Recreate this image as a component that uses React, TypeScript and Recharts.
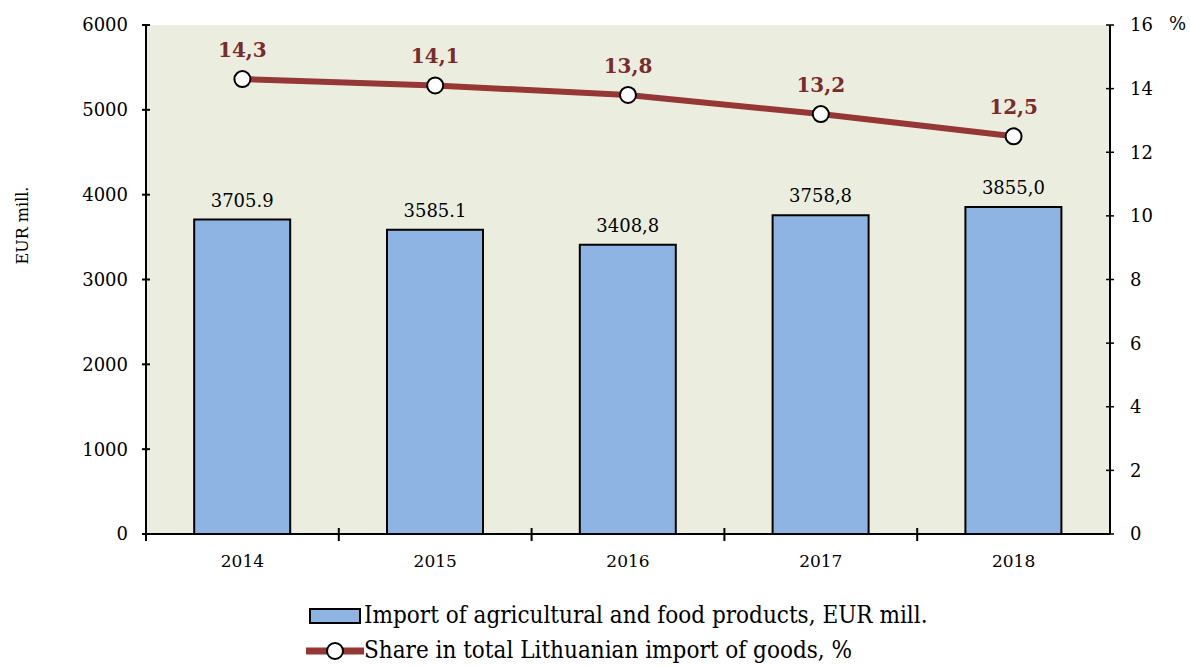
import React from "react";
import {
  Bar,
  CartesianGrid,
  ComposedChart,
  LabelList,
  Legend,
  Line,
  XAxis,
  YAxis,
} from "recharts";

const years = ["2014", "2015", "2016", "2017", "2018"];
const importValues = [3705.9, 3585.1, 3408.8, 3758.8, 3855.0];
const importLabels = ["3705.9", "3585.1", "3408,8", "3758,8", "3855,0"];
const shareValues = [14.3, 14.1, 13.8, 13.2, 12.5];
const shareLabels = ["14,3", "14,1", "13,8", "13,2", "12,5"];
const leftTicks = [0, 1000, 2000, 3000, 4000, 5000, 6000];
const rightTicks = [0, 2, 4, 6, 8, 10, 12, 14, 16];

const data = years.map((year, i) => ({
  year,
  value: importValues[i],
  valueLabel: importLabels[i],
  share: shareValues[i],
  shareLabel: shareLabels[i],
}));

const serif = "'DejaVu Serif', serif";
const barColor = "#8EB4E3";
const lineColor = "#953735";
const labelColor = "#7A2B2B";
const plotBg = "#EBEEDF";

const XTick = (props: any) => {
  const { x, y, payload } = props;
  const half = payload?.offset ?? 96.4;
  return (
    <g>
      <line x1={x - half} x2={x - half} y1={y - 14} y2={y - 1} stroke="#000" strokeWidth={2} />
      <text x={x} y={y + 25} textAnchor="middle" fontFamily={serif} fontSize={17} fill="#000">
        {payload.value}
      </text>
    </g>
  );
};

const LegendContent = () => (
  <div
    style={{
      height: 68,
      display: "flex",
      flexDirection: "column",
      alignItems: "flex-start",
      paddingLeft: 306,
      fontFamily: "'DejaVu Serif Condensed', 'DejaVu Serif', serif",
      fontStretch: "condensed",
      fontSize: 24,
      color: "#000",
      lineHeight: "35px",
    }}
  >
    <div style={{ display: "flex", alignItems: "center" }}>
      <svg width={58} height={20}>
        <rect x={4} y={3} width={50} height={14} fill={barColor} stroke="#000" strokeWidth={2} />
      </svg>
      <span>Import of agricultural and food products, EUR mill.</span>
    </div>
    <div style={{ display: "flex", alignItems: "center" }}>
      <svg width={58} height={20}>
        <line x1={0} x2={58} y1={10} y2={10} stroke={lineColor} strokeWidth={7} />
        <circle cx={29} cy={10} r={8} fill="#fff" stroke="#000" strokeWidth={2} />
      </svg>
      <span>Share in total Lithuanian import of goods, %</span>
    </div>
  </div>
);

export default function App() {
  return (
    <div style={{ position: "absolute", left: 0, top: 0, width: 1190, height: 666, background: "#fff" }}>
      <ComposedChart
        width={1190}
        height={666}
        data={data}
        margin={{ top: 25, right: 0, bottom: 0, left: 0 }}
        barCategoryGap="25%"
      >
        <CartesianGrid
          yAxisId="left"
          fill={plotBg}
          horizontal={false}
          vertical={false}
        />
        <XAxis
          dataKey="year"
          height={64}
          tick={<XTick />}
          tickLine={false}
          axisLine={{ stroke: "#000", strokeWidth: 2 }}
        />
        <XAxis
          xAxisId="top"
          dataKey="year"
          orientation="top"
          height={0}
          tick={false}
          tickLine={false}
          axisLine={{ stroke: "#000", strokeWidth: 2 }}
        />
        <YAxis
          yAxisId="left"
          width={146}
          domain={[0, 6000]}
          ticks={leftTicks}
          interval={0}
          tickSize={8}
          tickMargin={10}
          tick={{ fill: "#000", fontFamily: serif, fontSize: 18 }}
          tickLine={{ stroke: "#000", strokeWidth: 2, transform: "translate(4,0)" }}
          axisLine={{ stroke: "#000", strokeWidth: 2 }}
          label={{
            value: "EUR mill.",
            angle: -90,
            position: "insideLeft",
            offset: 22,
            dy: -54,
            style: { fill: "#000", fontFamily: serif, fontSize: 16, textAnchor: "middle" },
          }}
        />
        <YAxis
          yAxisId="right"
          orientation="right"
          width={80}
          domain={[0, 16]}
          ticks={rightTicks}
          interval={0}
          tickSize={8}
          tickMargin={12}
          tick={{ fill: "#000", fontFamily: serif, fontSize: 18 }}
          tickLine={{ stroke: "#000", strokeWidth: 1.5, transform: "translate(-4,0)" }}
          axisLine={{ stroke: "#000", strokeWidth: 2 }}
          label={{
            value: "%",
            position: "insideTopRight",
            offset: 0,
            dx: -4,
            dy: -8,
            style: { fill: "#000", fontFamily: serif, fontSize: 18 },
          }}
        />
        <Legend verticalAlign="bottom" align="left" content={<LegendContent />} />
        <Bar
          yAxisId="left"
          dataKey="value"
          fill={barColor}
          stroke="#000"
          strokeWidth={2}
          isAnimationActive={false}
        >
          <LabelList
            dataKey="valueLabel"
            position="top"
            offset={13}
            style={{ fill: "#000", fontFamily: serif, fontSize: 18 }}
          />
        </Bar>
        <Line
          yAxisId="right"
          dataKey="share"
          stroke={lineColor}
          strokeWidth={6}
          dot={{ r: 8, fill: "#fff", stroke: "#000", strokeWidth: 2 }}
          activeDot={false}
          isAnimationActive={false}
        >
          <LabelList
            dataKey="shareLabel"
            position="top"
            offset={22}
            style={{ fill: labelColor, fontFamily: serif, fontSize: 20, fontWeight: 700 }}
          />
        </Line>
      </ComposedChart>
    </div>
  );
}
